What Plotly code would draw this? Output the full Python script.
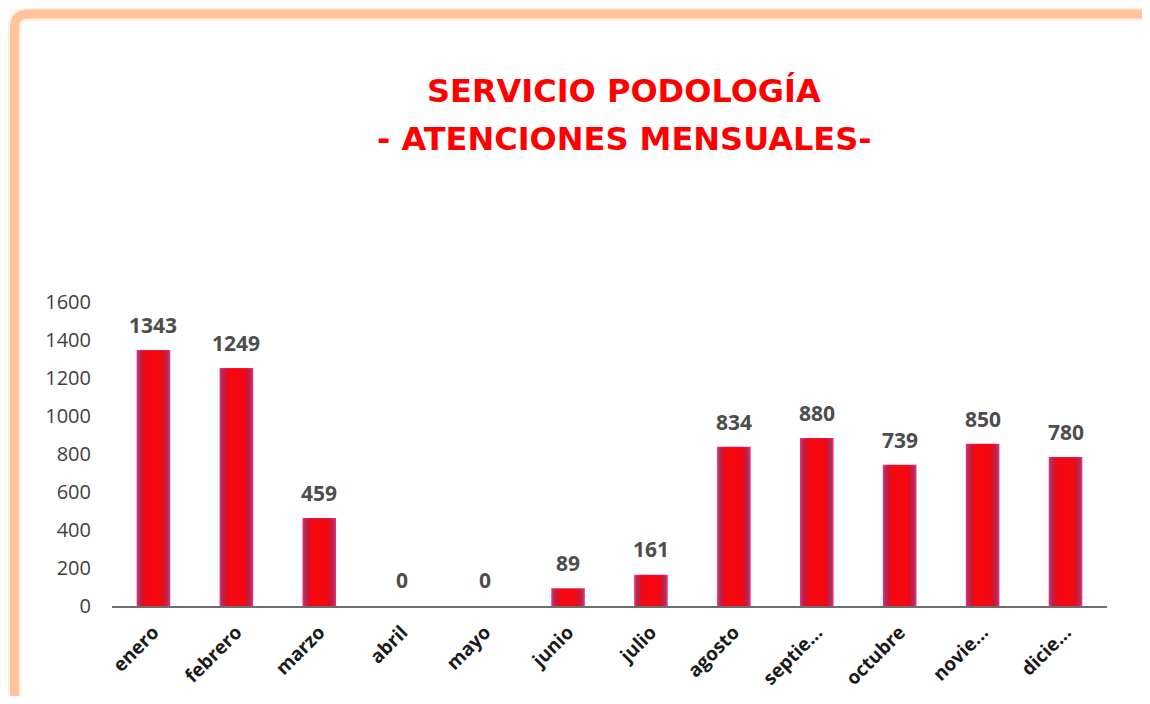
import plotly.graph_objects as go

months = ["enero", "febrero", "marzo", "abril", "mayo", "junio", "julio",
          "agosto", "septie...", "octubre", "novie...", "dicie..."]
atenciones = [1343, 1249, 459, 0, 0, 89, 161, 834, 880, 739, 850, 780]
y_ticks = [0, 200, 400, 600, 800, 1000, 1200, 1400, 1600]
title_line1 = "SERVICIO PODOLOGÍA"
title_line2 = "- ATENCIONES MENSUALES-"

OFF = 8  # default page body margin
W, H = 1134, 688
# target plot area in window pixels: x 112..1107, y 302..606
L = 112 - OFF
T = 302 - OFF
R = W - (1107 - OFF)
B = H - (606 - OFF)
pw, ph = W - L - R, H - T - B


def px(x):
    return (x - OFF - L) / pw


def py(y):
    return (606 - y) / ph


fig = go.Figure()
# layered bars to imitate the shaded fill (outer purple-ish edge, red core)
layers = [(0.386, "#9A3C62", dict(color="#FF1F6E", width=1.5)),
          (0.33, "#C21F42", dict(width=0)),
          (0.27, "#E00E24", dict(width=0)),
          (0.20, "#F50810", dict(width=0))]
for wdt, col, ln in layers:
    lw = [ln["width"] if v else 0 for v in atenciones]
    fig.add_trace(go.Bar(
        x=months, y=atenciones, width=wdt,
        marker=dict(color=col, line=dict(color=ln.get("color", col), width=lw)),
        hoverinfo="x+y", showlegend=False,
    ))

for m, v in zip(months, atenciones):
    fig.add_annotation(x=m, y=v, text=str(v), showarrow=False, yanchor="bottom",
                       yshift=10,
                       font=dict(family="Open Sans", size=21, color="#4D4D4D",
                                 weight="bold"))

# frame
fx0, fy0 = 14.5, 14
r = 14
path = (f"M {px(fx0)},{py(740)} L {px(fx0)},{py(fy0 + r)} "
        f"Q {px(fx0)},{py(fy0)} {px(fx0 + r)},{py(fy0)} L {px(1180)},{py(fy0)}")
for w, op in [(14, 0.25), (9, 1.0)]:
    fig.add_shape(type="path", path=path, xref="paper", yref="paper",
                  line=dict(color="#FFC49C", width=w), opacity=op, layer="below")

for txt, yy in [(title_line1, 91), (title_line2, 139)]:
    fig.add_annotation(text=txt, x=px(624), xref="paper", xanchor="center",
                       y=py(yy), yref="paper", yanchor="middle", showarrow=False,
                       font=dict(family="DejaVu Sans", size=32, color="#FF0000",
                                 weight="bold"))

fig.update_layout(
    width=W, height=H,
    margin=dict(l=L, r=R, t=T, b=B),
    paper_bgcolor="white", plot_bgcolor="white",
    barmode="overlay", showlegend=False,
    xaxis=dict(showline=True, linecolor="#6E6E6E", linewidth=1.5, tickangle=-45,
               tickfont=dict(family="Open Sans", size=19, color="#1A1A1A", weight="bold"),
               ticks="", showgrid=False, fixedrange=True, automargin=False,
               ticklabelstandoff=6),
    yaxis=dict(range=[0, 1600], tickvals=y_ticks, showgrid=False, zeroline=False,
               showline=False, ticks="", ticklabelstandoff=20, automargin=False,
               tickfont=dict(family="Open Sans", size=20, color="#404040"),
               fixedrange=True),
)

fig.write_html("out.html")
